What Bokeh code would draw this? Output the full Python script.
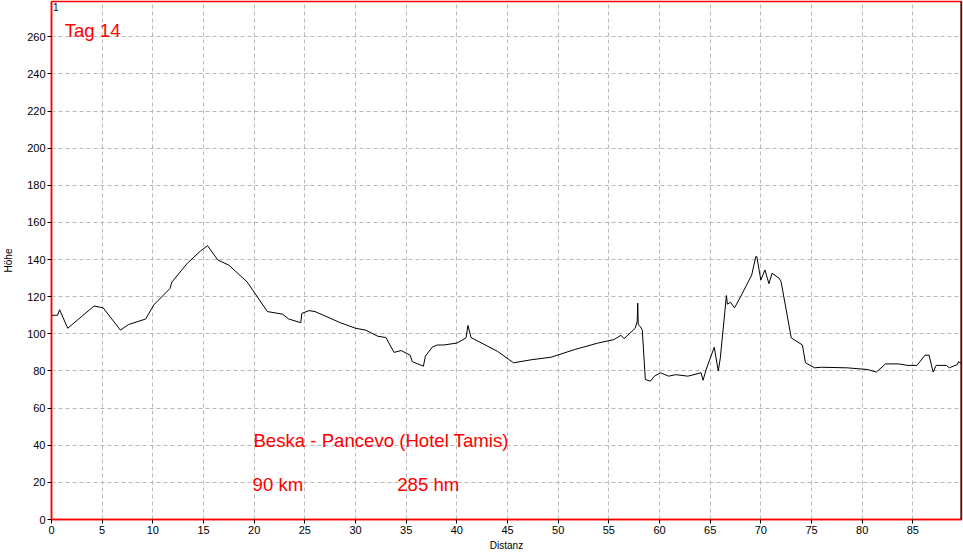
from bokeh.plotting import figure
from bokeh.models import Range1d, SingleIntervalTicker, Label, Span
from bokeh.embed import file_html
from bokeh.resources import INLINE

# Distance (km) and elevation (m)
km = [0, 0.6, 0.8, 1.6, 4.2, 5.1, 6.8, 7.6, 9.3, 10.1,
      11.7, 11.8, 11.9, 13.4, 14.7, 15.4, 16.4, 17.5, 19.3, 21.3,
      22.8, 23.4, 24.6, 24.7, 25.4, 26.0, 28.5, 30.0, 31.0, 32.2,
      33.0, 33.8, 34.5, 35.4, 35.6, 36.7, 36.9, 37.6, 38.1, 38.7,
      40.0, 40.9, 41.1, 41.4, 44.0, 45.6, 47.3, 49.3, 51.6, 53.9,
      55.5, 56.2, 56.5, 57.6, 57.8, 57.85, 57.9, 58.1, 58.3, 58.6,
      59.1, 59.5, 60.1, 60.9, 61.6, 62.8, 64.1, 64.3, 64.6, 65.4,
      65.8, 66.0, 66.6, 66.7, 67.0, 67.4, 68.0, 68.6, 69.1, 69.5,
      69.6, 70.0, 70.4, 70.8, 71.1, 71.8, 72.0, 73.0, 74.1, 74.4,
      75.3, 76.0, 78.5, 80.5, 81.4, 82.3, 83.6, 84.5, 85.4, 86.2,
      86.6, 87.0, 87.3, 88.3, 88.6, 89.4, 89.5, 89.8]
elev = [110, 110, 113, 103, 115, 114, 102, 105, 108, 115.6,
        124.5, 126.5, 128, 138, 144.6, 147.5, 139.8, 137, 128, 112,
        110.6, 108, 106, 111, 112.5, 112, 106, 103, 102, 98.7,
        98, 90, 91, 88.5, 85, 82.6, 88, 93, 94, 94,
        95, 97.8, 104.5, 98, 90.6, 84.4, 86, 87.4, 91.5, 95,
        96.9, 99.2, 97.4, 103, 106.7, 116.5, 105, 104, 102, 75.4,
        74.5, 77.2, 79, 77.2, 78, 77.2, 79, 75, 80.8, 92.8,
        80, 87, 120.6, 116, 117, 114, 120, 126.4, 131.7, 141.6,
        141.6, 129, 134.4, 127, 132.6, 130, 128, 97.8, 94, 84.4,
        81.7, 82, 81.7, 80.8, 79.4, 83.8, 83.8, 83, 83, 88.5,
        88.5, 79.4, 83, 83, 81.7, 83.5, 85, 84]

x_max = 89.8
y_max = 279
x_step = 5
y_step = 20

title_text = "Tag 14"
route_text = "Beska - Pancevo (Hotel Tamis)"
dist_text = "90 km"
climb_text = "285 hm"

FONT = "Liberation Sans"
BIG = "18.6px"

p = figure(width=963, height=554,
           x_range=Range1d(0, x_max), y_range=Range1d(0, y_max),
           output_backend="svg", toolbar_location=None,
           min_border_left=51, min_border_right=2,
           min_border_top=1, min_border_bottom=35)

p.line(km, elev, line_color="black", line_width=1)

for ax, step in ((p.xaxis, x_step), (p.yaxis, y_step)):
    ax.ticker = SingleIntervalTicker(interval=step)
    ax.axis_line_color = "red"
    ax.axis_line_width = 1.5
    ax.major_tick_line_color = "black"
    ax.major_tick_in = 0
    ax.major_tick_out = 4
    ax.minor_tick_line_color = None
    ax.major_label_text_font = FONT
    ax.major_label_text_font_size = "11px"
    ax.major_label_text_color = "black"
    ax.major_label_standoff = 2
    ax.axis_label_text_font = FONT
    ax.axis_label_text_font_size = "10px"
    ax.axis_label_text_font_style = "normal"
    ax.axis_label_text_color = "black"

p.xaxis.axis_label = "Distanz"
p.xaxis.axis_label_standoff = 3
p.yaxis.axis_label = "Höhe"
p.yaxis.axis_label_standoff = 10

for g in (p.xgrid, p.ygrid):
    g.grid_line_color = "#b8b8b8"
    g.grid_line_dash = "4 3"
    g.grid_line_width = 1

p.outline_line_color = "red"
p.outline_line_width = 1.5
p.add_layout(Span(location=x_max, dimension="height", line_color="black", line_width=2))

p.add_layout(Label(x=0.15, y=y_max - 1, text="1", text_color="black",
                   text_font=FONT, text_font_size="10px", text_baseline="top"))
p.add_layout(Label(x=1.3, y=263.5, text=title_text, text_color="red",
                   text_font=FONT, text_font_size=BIG, text_baseline="alphabetic"))
p.add_layout(Label(x=19.93, y=42.8, text=route_text, text_color="red",
                   text_font=FONT, text_font_size=BIG, text_baseline="alphabetic"))
p.add_layout(Label(x=19.84, y=18.8, text=dist_text, text_color="red",
                   text_font=FONT, text_font_size=BIG, text_baseline="alphabetic"))
p.add_layout(Label(x=34.12, y=18.8, text=climb_text, text_color="red",
                   text_font=FONT, text_font_size=BIG, text_baseline="alphabetic"))

html = file_html(p, INLINE)
html = html.replace("<head>", "<head><style>body{margin:0;}</style>", 1)
open("out.html", "w").write(html)
